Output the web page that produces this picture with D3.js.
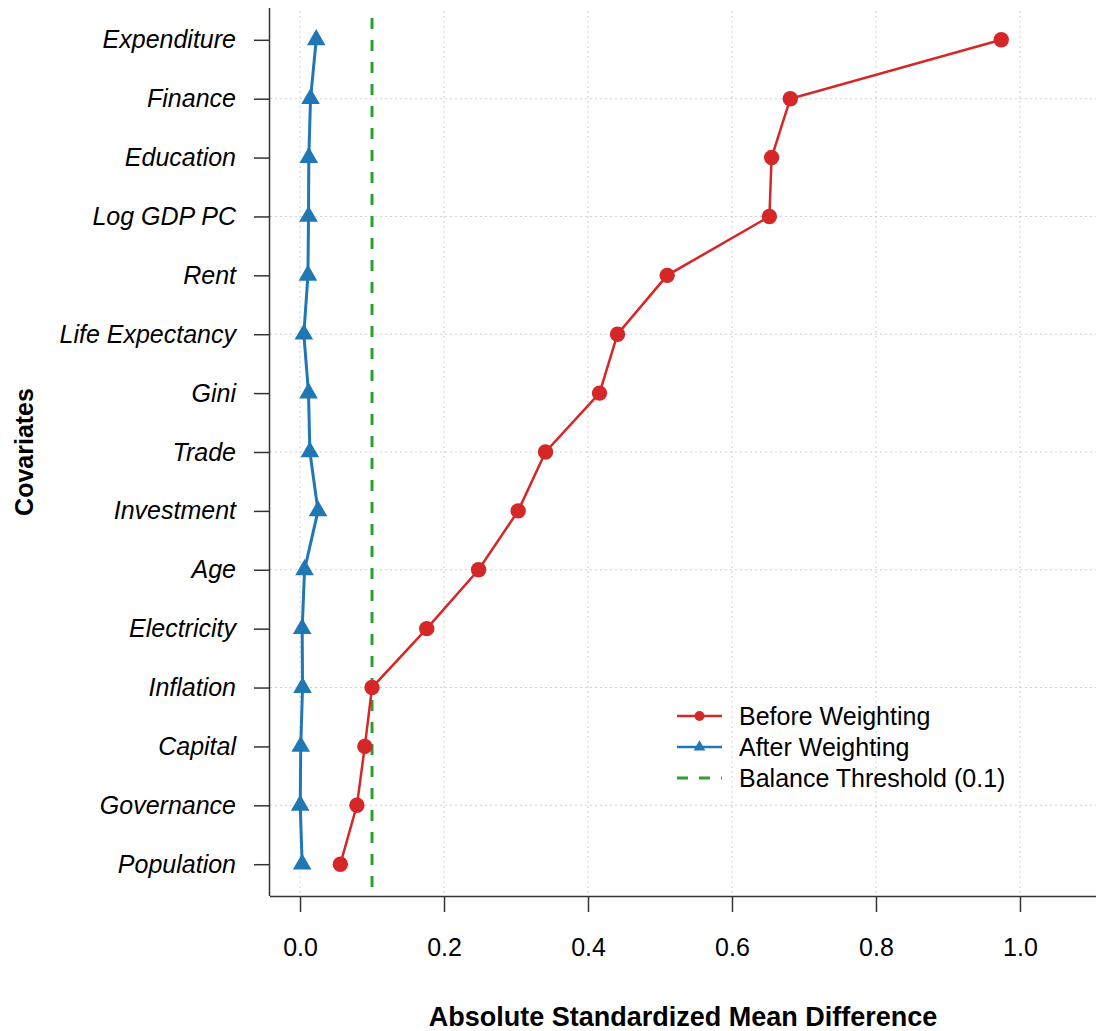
<!DOCTYPE html>
<html>
<head>
<meta charset="utf-8">
<script src="https://cdn.jsdelivr.net/npm/d3@7"></script>
<style>
  body { margin: 0; background: #fff; }
  svg { font-family: "Liberation Sans", Arial, sans-serif; }
</style>
</head>
<body>
<div id="chart"></div>
<script>
// covariates, top to bottom
var covariates = ["Expenditure", "Finance", "Education", "Log GDP PC", "Rent",
  "Life Expectancy", "Gini", "Trade", "Investment", "Age", "Electricity",
  "Inflation", "Capital", "Governance", "Population"];

var beforeSMD = [0.974, 0.681, 0.655, 0.652, 0.510, 0.441, 0.416, 0.341,
  0.303, 0.248, 0.176, 0.100, 0.090, 0.079, 0.056];

var afterSMD = [0.0225, 0.0146, 0.0122, 0.0118, 0.011, 0.0053, 0.0118, 0.0137,
  0.025, 0.0063, 0.003, 0.0035, 0.001, 0.0003, 0.003];

var xTicks = [0, 0.2, 0.4, 0.6, 0.8, 1.0];
var threshold = 0.1;
var legendLabels = ["Before Weighting", "After Weighting", "Balance Threshold (0.1)"];

var width = 1096, height = 1031;
// plot area (note: "top" is reserved on window, so use plotTop etc.)
var plotLeft = 270, plotRight = 1096, plotTop = 8, plotBottom = 896;

var red = "#d62728", blue = "#1f77b4", green = "#2ca02c";

var svg = d3.select("#chart").append("svg")
  .attr("width", width)
  .attr("height", height);

// x: 0 -> 300.5, 1 -> 1020.5
var x = d3.scaleLinear().domain([-0.0417, 1.1056]).range([plotLeft, plotRight]);
// y position = covariate index counted from the bottom (1..15)
var y = d3.scaleLinear().domain([0.46, 15.54]).range([plotBottom, plotTop]);
var n = covariates.length;
function yIdx(i) { return y(n - i); }

// grid
var grid = svg.append("g").attr("class", "grid")
  .attr("stroke", "#cfcfcf").attr("stroke-width", 1).attr("stroke-dasharray", "2,3");
grid.selectAll("line.v").data(xTicks).enter().append("line")
  .attr("x1", d => x(d)).attr("x2", d => x(d))
  .attr("y1", plotTop + 3).attr("y2", plotBottom);
grid.selectAll("line.h").data(d3.range(2, 15, 2)).enter().append("line")
  .attr("x1", plotLeft).attr("x2", plotRight)
  .attr("y1", d => y(d)).attr("y2", d => y(d));

// threshold line
svg.append("line")
  .attr("x1", x(threshold)).attr("x2", x(threshold))
  .attr("y1", plotTop + 10).attr("y2", plotBottom)
  .attr("stroke", green).attr("stroke-width", 3)
  .attr("stroke-dasharray", "11,11");

// axes
var xAxis = d3.axisBottom(x).tickValues(xTicks).tickFormat(d3.format(".1f"))
  .tickSize(16).tickPadding(26);
var gx = svg.append("g").attr("transform", "translate(0," + plotBottom + ")").call(xAxis);
gx.select(".domain").attr("d", "M" + plotLeft + ",0.5H" + plotRight).attr("stroke", "#333").attr("stroke-width", 1.5);
gx.selectAll(".tick line").attr("stroke", "#333").attr("stroke-width", 1.5);
gx.selectAll(".tick text").attr("font-size", 25).attr("fill", "#000")
  .attr("font-family", "Liberation Sans, Arial, sans-serif");

var yAxis = d3.axisLeft(y).tickValues(d3.range(1, n + 1))
  .tickFormat(d => covariates[n - d]).tickSize(16).tickPadding(18);
var gy = svg.append("g").attr("transform", "translate(" + plotLeft + ",0)").call(yAxis);
gy.select(".domain").attr("d", "M-0.5," + plotTop + "V" + plotBottom).attr("stroke", "#333").attr("stroke-width", 1.5);
gy.selectAll(".tick line").attr("stroke", "#333").attr("stroke-width", 1.5);
gy.selectAll(".tick text").attr("font-size", 25).attr("font-style", "italic").attr("fill", "#000")
  .attr("font-family", "Liberation Sans, Arial, sans-serif");

// axis titles
svg.append("text")
  .attr("x", (plotLeft + plotRight) / 2).attr("y", 1026)
  .attr("text-anchor", "middle").attr("font-size", 27).attr("font-weight", "bold")
  .text("Absolute Standardized Mean Difference");
svg.append("text")
  .attr("transform", "translate(33," + ((plotTop + plotBottom) / 2) + ") rotate(-90)")
  .attr("text-anchor", "middle").attr("font-size", 25).attr("font-weight", "bold")
  .text("Covariates");

// series
var line = d3.line().x(d => x(d[0])).y(d => d[1]);

var before = beforeSMD.map((v, i) => [v, yIdx(i)]);
var after = afterSMD.map((v, i) => [v, yIdx(i)]);

svg.append("path").datum(before).attr("d", line)
  .attr("fill", "none").attr("stroke", red).attr("stroke-width", 2.5);
svg.selectAll("circle.before").data(before).enter().append("circle")
  .attr("cx", d => x(d[0])).attr("cy", d => d[1]).attr("r", 7.7).attr("fill", red);

svg.append("path").datum(after).attr("d", line)
  .attr("fill", "none").attr("stroke", blue).attr("stroke-width", 3);
var tri = d3.symbol().type(d3.symbolTriangle).size(150);
svg.selectAll("path.after").data(after).enter().append("path")
  .attr("transform", d => "translate(" + x(d[0]) + "," + d[1] + ")")
  .attr("d", tri).attr("fill", blue);

// legend
var leg = svg.append("g").attr("transform", "translate(677,716)");
var rows = [
  { c: red, dash: null, mark: "circle" },
  { c: blue, dash: null, mark: "tri" },
  { c: green, dash: "11,11", mark: null }
];
rows.forEach(function(r, i) {
  var g = leg.append("g").attr("transform", "translate(0," + (i * 31) + ")");
  g.append("line").attr("x1", 0).attr("x2", 45).attr("y1", 0).attr("y2", 0)
    .attr("stroke", r.c).attr("stroke-width", r.dash ? 3 : 2.5)
    .attr("stroke-dasharray", r.dash);
  if (r.mark === "circle") g.append("circle").attr("cx", 22.5).attr("r", 5).attr("fill", r.c);
  if (r.mark === "tri") g.append("path").attr("d", d3.symbol().type(d3.symbolTriangle).size(60))
    .attr("transform", "translate(22.5,0)").attr("fill", r.c);
  g.append("text").attr("x", 62).attr("y", 9).attr("font-size", 25).text(legendLabels[i]);
});
</script>
</body>
</html>
